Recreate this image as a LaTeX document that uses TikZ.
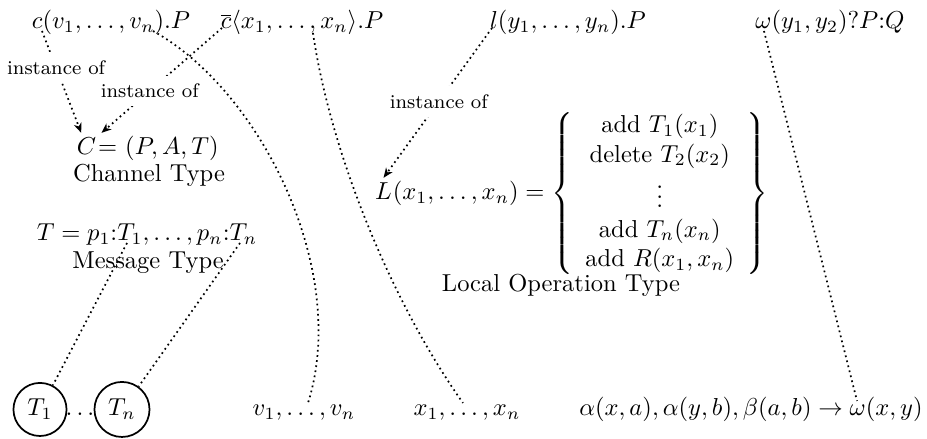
\documentclass[tikz,border=0pt]{standalone}
\usepackage{amsmath}
\usetikzlibrary{arrows.meta,calc}
\begin{document}
\begin{tikzpicture}[x=0.408pt,y=-0.408pt,
  every node/.style={inner sep=0pt},
  txt/.style={anchor=base},
  sym/.style={anchor=base,inner sep=2pt},
  circ/.style={circle,draw,line width=0.7pt,inner sep=0.3em,anchor=base},
  lk/.style={line width=0.7pt,dash pattern=on 0.7pt off 1.4pt},
  arr/.style={lk,-{Stealth[length=4pt,width=3.2pt,inset=1.2pt]}},
  inst/.style={fill=white,font=\footnotesize,inner sep=0.3333em}]
\useasboundingbox (0,0) rectangle (927,439);

% top row
\node[txt] (cin) at (111,29) {$c(v_1,\ldots,v_n).P$};
\node[txt] (cout) at (302,29) {$\overline{c}\langle x_1,\ldots,x_n\rangle.P$};
\node[txt] (loc) at (568,29) {$l(y_1,\ldots,y_n).P$};
\node[txt] (om) at (830,29) {$\omega(y_1,y_2)?P{:}Q$};

% channel type
\node[sym] (Csym) at (86.5,155) {$C$};
\node[anchor=base west] (Crest) at ($(Csym.base east)+(-4,0)$) {= $(P,A,T)$};
\node[txt] (Ctype) at (149,182) {Channel Type};

% message type
\node[txt] (Tform) at (147,241) {$T = p_1{:}T_1,\ldots,p_n{:}T_n$};
\node[txt] (Ttype) at (148,269) {Message Type};

% local operation type
\node[sym] (Lsym) at (383.5,200) {$L$};
\node[anchor=base west] (Lrest) at ($(Lsym.base east)+(-4.9,0)$)
  {$(x_1,\ldots,x_n) = \left\{\begin{array}{c}
     \mbox{add } T_1(x_1)\\
     \mbox{delete } T_2(x_2)\\
     \vdots\\
     \mbox{add } T_n(x_n)\\
     \mbox{add } R(x_1,x_n)
   \end{array}\right\}$};
\node[txt] (Ltype) at (561,292) {Local Operation Type};

% bottom row
\node[circ] (T1c) at (40,416) {$T_1$};
\node[txt] (tdots) at (80,416) {$\ldots$};
\node[circ] (Tnc) at (122,416) {$T_n$};
\node[txt] (vrow) at (304,416) {$v_1,\ldots,v_n$};
\node[txt] (xrow) at (467,416) {$x_1,\ldots,x_n$};
\node[txt] (rule) at (751,416) {$\alpha(x,a),\alpha(y,b),\beta(a,b)\rightarrow\omega(x,y)$};

% connector ends
\coordinate (cinA) at (42,31);
\coordinate (cinB) at (153,31);
\coordinate (coutA) at (222,28);
\coordinate (coutB) at (313,33);
\coordinate (locA) at (492,28);
\coordinate (omA) at (764,31);
\coordinate (Tp1) at (127,243);
\coordinate (Tpn) at (240,243);
\coordinate (vdot) at (308,403);
\coordinate (xdot) at (463,403);
\coordinate (omB) at (857,401);

% connectors
\draw[arr] (cinA) -- node[inst,pos=0.36] {instance of} (Csym);
\draw[arr] (coutA) -- node[inst,pos=0.6] {instance of} (Csym.north east);
\draw[arr] (locA) -- node[inst,pos=0.49] {instance of} (Lsym.north);
\draw[lk] (cinB) .. controls (260,90) and (350,270) .. (vdot);
\draw[lk] (coutB) .. controls (330,150) and (390,300) .. (xdot);
\draw[lk] (omA) -- (omB);
\draw[lk] (Tp1) -- (T1c.62);
\draw[lk] (Tpn) -- (Tnc.54);
\end{tikzpicture}
\end{document}
